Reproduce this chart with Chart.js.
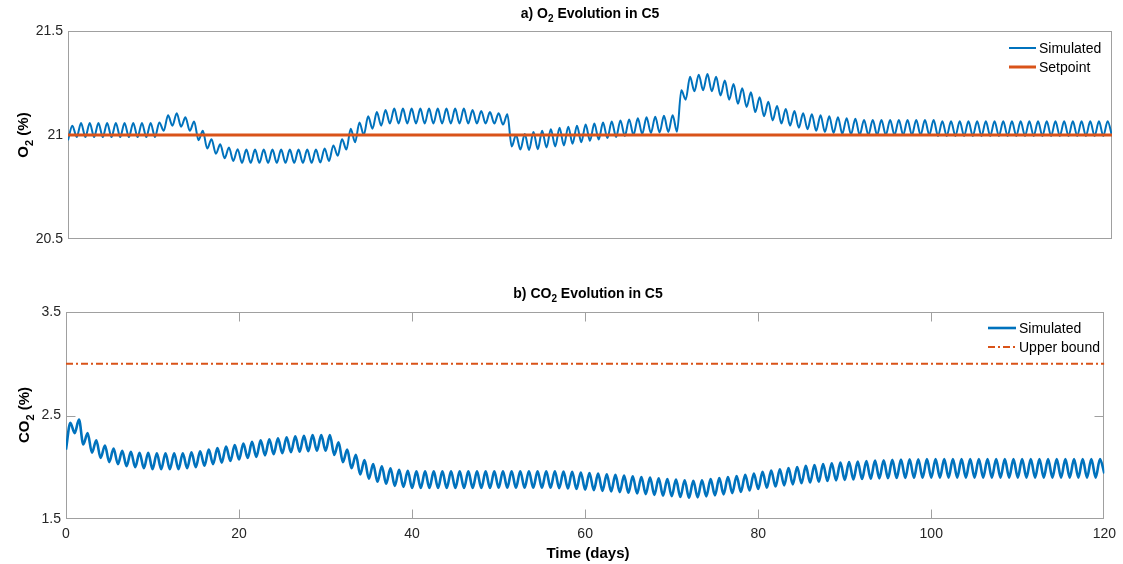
<!DOCTYPE html>
<html>
<head>
<meta charset="utf-8">
<script src="https://cdn.jsdelivr.net/npm/chart.js@4.4.0/dist/chart.umd.min.js"></script>
<style>
  html, body { margin: 0; padding: 0; background: #fff; }
  #wrap { position: relative; width: 1123px; height: 564px; }
  canvas { position: absolute; left: 0; }
</style>
</head>
<body>
<div id="wrap">
  <canvas id="o2-chart" width="1123" height="268" style="top:0"></canvas>
  <canvas id="co2-chart" width="1123" height="296" style="top:268px"></canvas>
</div>
<script>
// daily extremes (trough at start of day d, peak mid-day d)
const O2_PEAK = [
  21.045, 21.058, 21.058, 21.058, 21.058, 21.058, 21.058, 21.058, 21.058, 21.058,
  21.06, 21.095, 21.105, 21.085, 21.065, 21.02, 20.98, 20.955, 20.94, 20.932,
  20.93, 20.93, 20.93, 20.93, 20.93, 20.93, 20.93, 20.93, 20.93, 20.935,
  20.95, 20.98, 21.03, 21.06, 21.09, 21.11, 21.12, 21.127, 21.127, 21.127,
  21.127, 21.127, 21.127, 21.127, 21.127, 21.127, 21.12, 21.115, 21.11, 21.105,
  21.1, 21.0, 21.005, 21.015, 21.02, 21.028, 21.035, 21.04, 21.045, 21.05,
  21.055, 21.06, 21.065, 21.07, 21.075, 21.08, 21.085, 21.088, 21.092, 21.095,
  21.215, 21.28, 21.29, 21.293, 21.28, 21.262, 21.245, 21.225, 21.205, 21.182,
  21.16, 21.14, 21.125, 21.115, 21.105, 21.1, 21.095, 21.09, 21.085, 21.08,
  21.078, 21.072, 21.072, 21.072, 21.072, 21.072, 21.072, 21.072, 21.072, 21.072,
  21.066, 21.066, 21.066, 21.066, 21.066, 21.066, 21.066, 21.066, 21.066, 21.066,
  21.066, 21.066, 21.066, 21.066, 21.066, 21.066, 21.066, 21.066, 21.066, 21.066
];
const O2_TROUGH = [
  20.975, 20.99, 20.99, 20.99, 20.99, 20.99, 20.99, 20.99, 20.99, 20.99,
  20.99, 21.02, 21.045, 21.04, 21.02, 20.975, 20.935, 20.91, 20.888, 20.875,
  20.866, 20.866, 20.866, 20.866, 20.866, 20.866, 20.866, 20.866, 20.866, 20.868,
  20.875, 20.9, 20.93, 20.965, 21.0, 21.03, 21.045, 21.055, 21.055, 21.055,
  21.055, 21.055, 21.055, 21.055, 21.055, 21.055, 21.055, 21.055, 21.055, 21.055,
  21.05, 20.945, 20.93, 20.928, 20.932, 20.94, 20.945, 20.95, 20.958, 20.965,
  20.972, 20.978, 20.985, 20.99, 20.995, 21.0, 21.005, 21.01, 21.012, 21.015,
  21.016, 21.17, 21.21, 21.215, 21.21, 21.19, 21.17, 21.15, 21.135, 21.11,
  21.09, 21.07, 21.055, 21.045, 21.035, 21.028, 21.02, 21.015, 21.01, 21.006,
  21.003, 21.0, 21.0, 21.0, 21.0, 21.0, 21.0, 21.0, 21.0, 21.0,
  20.995, 20.995, 20.995, 20.995, 20.995, 20.995, 20.995, 20.995, 20.995, 20.995,
  20.995, 20.995, 20.995, 20.995, 20.995, 20.995, 20.995, 20.995, 20.995, 20.995,
  20.995
];
const O2_SETPOINT = 21;

const CO2_PEAK = [
  2.43, 2.46, 2.33, 2.26, 2.21, 2.18, 2.16, 2.15, 2.14, 2.14,
  2.135, 2.135, 2.135, 2.135, 2.145, 2.155, 2.17, 2.185, 2.2, 2.215,
  2.23, 2.245, 2.26, 2.27, 2.28, 2.29, 2.3, 2.305, 2.31, 2.31,
  2.31, 2.24, 2.17, 2.12, 2.07, 2.03, 2.01, 1.99, 1.975, 1.965,
  1.96, 1.96, 1.96, 1.96, 1.96, 1.96, 1.96, 1.96, 1.96, 1.96,
  1.962, 1.962, 1.962, 1.962, 1.962, 1.962, 1.962, 1.958, 1.955, 1.95,
  1.944, 1.938, 1.932, 1.926, 1.92, 1.913, 1.906, 1.9, 1.893, 1.886,
  1.88, 1.875, 1.87, 1.875, 1.885, 1.895, 1.905, 1.915, 1.928, 1.94,
  1.955, 1.968, 1.98, 1.992, 2.003, 2.013, 2.022, 2.03, 2.038, 2.045,
  2.05, 2.055, 2.06, 2.064, 2.068, 2.071, 2.074, 2.076, 2.078, 2.079,
  2.08, 2.08, 2.08, 2.08, 2.08, 2.08, 2.08, 2.08, 2.08, 2.08,
  2.08, 2.08, 2.08, 2.08, 2.08, 2.08, 2.08, 2.08, 2.08, 2.08
];
const CO2_TROUGH = [
  2.17, 2.33, 2.22, 2.14, 2.09, 2.05, 2.03, 2.01, 2.0, 1.99,
  1.98, 1.98, 1.98, 1.98, 1.99, 2.0, 2.015, 2.03, 2.045, 2.06,
  2.075, 2.09, 2.1, 2.115, 2.125, 2.135, 2.145, 2.15, 2.155, 2.16,
  2.16, 2.12, 2.05, 1.99, 1.93, 1.89, 1.86, 1.84, 1.82, 1.81,
  1.8, 1.8, 1.8, 1.8, 1.8, 1.8, 1.8, 1.8, 1.8, 1.8,
  1.802, 1.802, 1.802, 1.802, 1.802, 1.802, 1.802, 1.798, 1.795, 1.79,
  1.784, 1.778, 1.772, 1.766, 1.76, 1.753, 1.746, 1.74, 1.733, 1.726,
  1.72, 1.712, 1.705, 1.708, 1.718, 1.728, 1.738, 1.75, 1.762, 1.775,
  1.79, 1.802, 1.814, 1.825, 1.835, 1.845, 1.853, 1.86, 1.867, 1.873,
  1.878, 1.882, 1.886, 1.889, 1.892, 1.894, 1.896, 1.897, 1.898, 1.899,
  1.9, 1.9, 1.9, 1.9, 1.9, 1.9, 1.9, 1.9, 1.9, 1.9,
  1.9, 1.9, 1.9, 1.9, 1.9, 1.9, 1.9, 1.9, 1.9, 1.9,
  1.94
];
const CO2_UPPER = 3.0;

const X_TICKS = [0, 20, 40, 60, 80, 100, 120];

const FONT = '"Liberation Sans", Arial, Helvetica, sans-serif';
const BLUE = '#0072BD';
const ORANGE = '#D95319';
const AXIS_COLOR = '#a0a0a0';
const TICK_COLOR = '#262626';

function buildWave(troughs, peaks) {
  const pts = [];
  peaks.forEach((p, d) => {
    pts.push({ x: d, y: troughs[d] });
    pts.push({ x: d + 0.5, y: p });
  });
  pts.push({ x: peaks.length, y: troughs[peaks.length] });
  return pts;
}

// text with a subscript part, centred on x
function drawRich(ctx, parts, x, y, size) {
  const big = `bold ${size}px ${FONT}`;
  const small = `bold ${Math.round(size * 0.72)}px ${FONT}`;
  let w = 0;
  parts.forEach(([t, sub]) => { ctx.font = sub ? small : big; w += ctx.measureText(t).width; });
  let cx = x - w / 2;
  ctx.textAlign = 'left';
  ctx.textBaseline = 'middle';
  parts.forEach(([t, sub]) => {
    ctx.font = sub ? small : big;
    ctx.fillText(t, cx, sub ? y + size * 0.38 : y);
    cx += ctx.measureText(t).width;
  });
}

const framePlugin = {
  id: 'frame',
  beforeDatasetsDraw(chart, args, opts) {
    const { ctx, chartArea: a } = chart;
    const xs = chart.scales.x, ys = chart.scales.y;
    const L = Math.round(a.left) + 0.5, R = Math.round(a.right) - 0.5;
    const T = Math.round(a.top) + 0.5, B = Math.round(a.bottom) - 0.5;
    ctx.save();
    ctx.strokeStyle = AXIS_COLOR;
    ctx.lineWidth = 1;
    ctx.strokeRect(L, T, R - L, B - T);
    const len = 9;
    ctx.beginPath();
    (opts.xTicks || []).forEach(v => {
      const px = Math.round(xs.getPixelForValue(v)) + 0.5;
      ctx.moveTo(px, B); ctx.lineTo(px, B - len);
      ctx.moveTo(px, T); ctx.lineTo(px, T + len);
    });
    (opts.yTicks || []).forEach(v => {
      const py = Math.round(ys.getPixelForValue(v)) + 0.5;
      ctx.moveTo(L, py); ctx.lineTo(L + len, py);
      ctx.moveTo(R, py); ctx.lineTo(R - len, py);
    });
    ctx.stroke();
    ctx.restore();
  }
};

const textPlugin = {
  id: 'texts',
  afterDraw(chart, args, opts) {
    const { ctx } = chart;
    ctx.save();
    ctx.fillStyle = '#000';
    if (opts.title) drawRich(ctx, opts.title.parts, opts.title.x, opts.title.y, 14);
    if (opts.yLabel) {
      ctx.save();
      ctx.translate(opts.yLabel.x, opts.yLabel.y);
      ctx.rotate(-Math.PI / 2);
      drawRich(ctx, opts.yLabel.parts, 0, 0, 15);
      ctx.restore();
    }
    if (opts.xLabel) drawRich(ctx, opts.xLabel.parts, opts.xLabel.x, opts.xLabel.y, 15);
    ctx.restore();
  }
};

const legendPlugin = {
  id: 'mlLegend',
  afterDraw(chart, args, opts) {
    const { ctx } = chart;
    ctx.save();
    ctx.font = `14px ${FONT}`;
    ctx.textAlign = 'left';
    ctx.textBaseline = 'middle';
    chart.data.datasets.forEach((ds, i) => {
      const y = opts.y + i * opts.gap;
      ctx.strokeStyle = ds.borderColor;
      ctx.lineWidth = ds.borderWidth;
      ctx.setLineDash(ds.borderDash || []);
      ctx.beginPath();
      ctx.moveTo(opts.x1, y);
      ctx.lineTo(opts.x2, y);
      ctx.stroke();
      ctx.setLineDash([]);
      ctx.fillStyle = '#000';
      ctx.fillText(ds.label, opts.x2 + 3, y + 1);
    });
    ctx.restore();
  }
};

function yAxis(min, max, step, width) {
  return {
    min, max,
    grid: { display: false, drawTicks: false },
    border: { display: false },
    ticks: {
      stepSize: step,
      padding: 5,
      color: TICK_COLOR,
      font: { family: FONT, size: 14 },
      callback: (v) => String(Math.round(v * 10) / 10),
    },
    afterFit: (s) => { s.width = width; },
  };
}

new Chart(document.getElementById('o2-chart'), {
  type: 'line',
  data: {
    datasets: [
      {
        label: 'Simulated',
        data: buildWave(O2_TROUGH, O2_PEAK),
        borderColor: BLUE,
        borderWidth: 2,
        pointRadius: 0,
        cubicInterpolationMode: 'monotone',
        order: 1,
      },
      {
        label: 'Setpoint',
        data: [{ x: X_TICKS[0], y: O2_SETPOINT }, { x: X_TICKS[X_TICKS.length - 1], y: O2_SETPOINT }],
        borderColor: ORANGE,
        borderWidth: 3,
        pointRadius: 0,
        order: 0,
      },
    ],
  },
  options: {
    responsive: false,
    animation: false,
    devicePixelRatio: 1,
    layout: { padding: { top: 31, right: 11, bottom: 29, left: 0 } },
    scales: {
      x: { type: 'linear', min: 0, max: 120, display: false },
      y: yAxis(20.5, 21.5, 0.5, 68),
    },
    plugins: {
      legend: { display: false },
      tooltip: { enabled: false },
      frame: { xTicks: [], yTicks: [] },
      texts: {
        title: { parts: [['a) O'], ['2', true], [' Evolution in C5']], x: 590, y: 14 },
        yLabel: { parts: [['O'], ['2', true], [' (%)']], x: 24, y: 135 },
      },
      mlLegend: { x1: 1009, x2: 1036, y: 48, gap: 19 },
    },
  },
  plugins: [framePlugin, textPlugin, legendPlugin],
});

new Chart(document.getElementById('co2-chart'), {
  type: 'line',
  data: {
    datasets: [
      {
        label: 'Simulated',
        data: buildWave(CO2_TROUGH, CO2_PEAK),
        borderColor: BLUE,
        borderWidth: 2.6,
        pointRadius: 0,
        cubicInterpolationMode: 'monotone',
      },
      {
        label: 'Upper bound',
        data: [{ x: X_TICKS[0], y: CO2_UPPER }, { x: X_TICKS[X_TICKS.length - 1], y: CO2_UPPER }],
        borderColor: ORANGE,
        borderWidth: 2,
        borderDash: [7, 3, 2, 3],
        pointRadius: 0,
      },
    ],
  },
  options: {
    responsive: false,
    animation: false,
    devicePixelRatio: 1,
    layout: { padding: { top: 44, right: 14, bottom: 0, left: 0 } },
    scales: {
      x: {
        type: 'linear',
        min: 0,
        max: 120,
        grid: { display: false, drawTicks: false },
        border: { display: false },
        ticks: { stepSize: 20, padding: 7, maxRotation: 0, color: TICK_COLOR, font: { family: FONT, size: 14 } },
        afterFit: (s) => { s.height = 45; },
      },
      y: yAxis(1.5, 3.5, 1, 66),
    },
    plugins: {
      legend: { display: false },
      tooltip: { enabled: false },
      frame: { xTicks: X_TICKS.slice(1, -1), yTicks: [2.5] },
      texts: {
        title: { parts: [['b) CO'], ['2', true], [' Evolution in C5']], x: 588, y: 26 },
        yLabel: { parts: [['CO'], ['2', true], [' (%)']], x: 25, y: 147 },
        xLabel: { parts: [['Time (days)']], x: 588, y: 286 },
      },
      mlLegend: { x1: 988, x2: 1016, y: 60, gap: 19 },
    },
  },
  plugins: [framePlugin, textPlugin, legendPlugin],
});
</script>
</body>
</html>
